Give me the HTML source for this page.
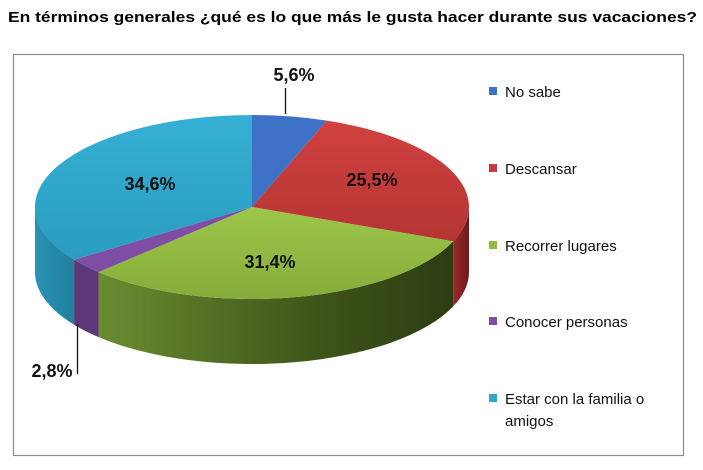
<!DOCTYPE html>
<html><head><meta charset="utf-8"><style>
html,body{margin:0;padding:0;background:#fff;}
svg{display:block;font-family:"Liberation Sans",sans-serif;}
</style></head><body>
<svg width="703" height="470" viewBox="0 0 703 470" xmlns="http://www.w3.org/2000/svg">
<defs>
<linearGradient id="gs" x1="0" x2="1" y1="0" y2="0">
<stop offset="0" stop-color="#6a8c30"/><stop offset="0.6" stop-color="#3f5619"/><stop offset="1" stop-color="#2c3d12"/></linearGradient>
<linearGradient id="rs" x1="0" x2="1"><stop offset="0" stop-color="#9a2a28"/><stop offset="1" stop-color="#6e1a18"/></linearGradient>
<linearGradient id="cs" x1="0" x2="1"><stop offset="0" stop-color="#2a93b3"/><stop offset="1" stop-color="#1f7f9c"/></linearGradient>
<linearGradient id="gt" x1="0" y1="0" x2="0" y2="1"><stop offset="0" stop-color="#9cc64a"/><stop offset="1" stop-color="#86ad3b"/></linearGradient>
<linearGradient id="rt" x1="0" y1="0" x2="0" y2="1"><stop offset="0" stop-color="#d0413f"/><stop offset="1" stop-color="#b53533"/></linearGradient>
<linearGradient id="ct" x1="0" y1="0" x2="0" y2="1"><stop offset="0" stop-color="#35b0d4"/><stop offset="1" stop-color="#2a9dc0"/></linearGradient>
</defs>
<text x="8" y="22" font-size="15" font-weight="bold" fill="#000" textLength="689" lengthAdjust="spacingAndGlyphs">En términos generales ¿qué es lo que más le gusta hacer durante sus vacaciones?</text>
<rect x="13.5" y="54.5" width="670" height="401" fill="none" stroke="#8a8a8a" stroke-width="1.2"/>
<path d="M469,207 A217,92 0 0 1 453.2,241.4 L453.2,306.4 A217,92 0 0 0 469,272 Z" fill="url(#rs)"/>
<path d="M453.2,241.4 A217,92 0 0 1 98.6,272.1 L98.6,337.1 A217,92 0 0 0 453.2,306.4 Z" fill="url(#gs)"/>
<path d="M98.6,272.1 A217,92 0 0 1 74.1,259.7 L74.1,324.7 A217,92 0 0 0 98.6,337.1 Z" fill="#5b3878"/>
<path d="M74.1,259.7 A217,92 0 0 1 35,207 L35,272 A217,92 0 0 0 74.1,324.7 Z" fill="url(#cs)"/>
<path d="M252,207 L252,115 A217,92 0 0 1 326.8,120.6 Z" fill="#3d72c6"/>
<path d="M252,207 L326.8,120.6 A217,92 0 0 1 453.2,241.4 Z" fill="url(#rt)"/>
<path d="M252,207 L453.2,241.4 A217,92 0 0 1 98.6,272.1 Z" fill="url(#gt)"/>
<path d="M252,207 L98.6,272.1 A217,92 0 0 1 74.1,259.7 Z" fill="#7d4ea3"/>
<path d="M252,207 L74.1,259.7 A217,92 0 0 1 252,115 Z" fill="url(#ct)"/>
<g font-size="18" font-weight="bold" fill="#111" text-anchor="middle">
<text x="294" y="81">5,6%</text>
<text x="372" y="186">25,5%</text>
<text x="150" y="190">34,6%</text>
<text x="270" y="268">31,4%</text>
<text x="52" y="377">2,8%</text>
</g>
<line x1="285.5" y1="88" x2="285.5" y2="114" stroke="#111" stroke-width="1.3"/>
<line x1="77.5" y1="324" x2="77.5" y2="374" stroke="#111" stroke-width="1.3"/>
<g font-size="15" fill="#111">
<rect x="489" y="87" width="8" height="8" fill="#3d72c6"/><text x="505" y="97">No sabe</text>
<rect x="489" y="164" width="8" height="8" fill="#c83b3a"/><text x="505" y="174">Descansar</text>
<rect x="489" y="241" width="8" height="8" fill="#93bb42"/><text x="505" y="251">Recorrer lugares</text>
<rect x="489" y="317" width="8" height="8" fill="#7d4ea3"/><text x="505" y="327">Conocer personas</text>
<rect x="489" y="394" width="8" height="8" fill="#30a9cc"/><text x="505" y="404">Estar con la familia o</text>
<text x="505" y="426">amigos</text>
</g>
</svg>
</body></html>
